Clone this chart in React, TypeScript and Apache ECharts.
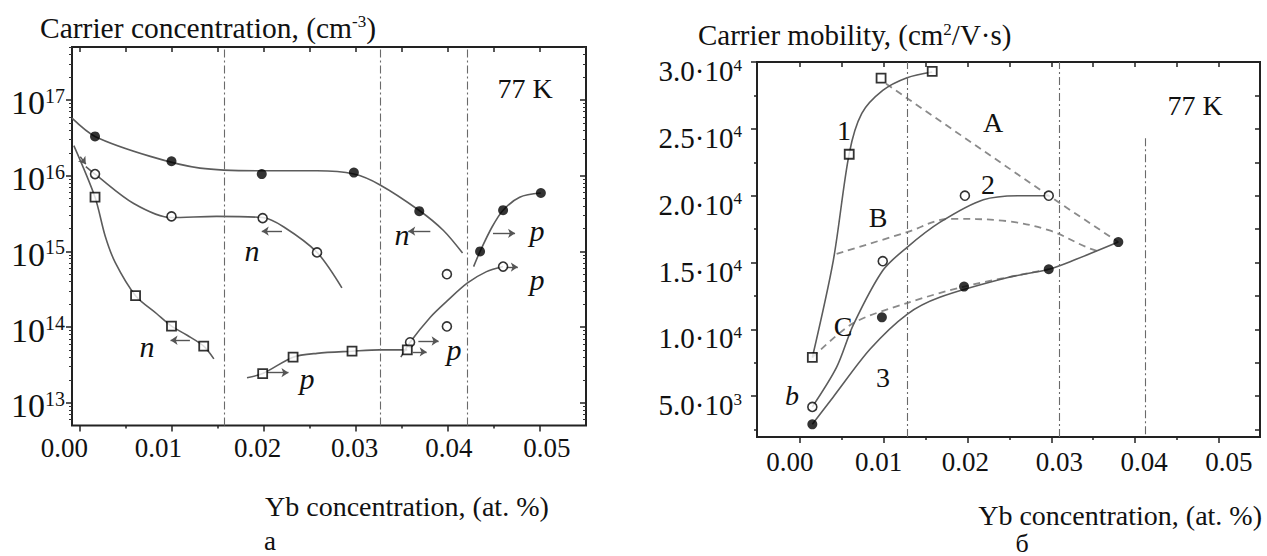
import React, { useEffect, useRef } from "react";
import * as echarts from "echarts";

const FONT = "Liberation Serif";

// ---------------- Panel a: carrier concentration (log scale) ----------------
const xTicksA = [0, 0.01, 0.02, 0.03, 0.04, 0.05];
const xMinorA = [0.005, 0.015, 0.025, 0.035, 0.045];
const yTicksA = [1e13, 1e14, 1e15, 1e16, 1e17];
const boundariesA = [0.0157, 0.0327, 0.0421];

// measured points
const filledA_x = [0.0017, 0.0100, 0.0198, 0.0298, 0.0369, 0.0435, 0.0460, 0.0501];
const filledA_y = [3.3e16, 1.55e16, 1.05e16, 1.1e16, 3.4e15, 1.0e15, 3.5e15, 5.9e15];
const openA_x = [0.0017, 0.0100, 0.0199, 0.0258, 0.0399, 0.0399, 0.0359, 0.0460];
const openA_y = [1.05e16, 2.9e15, 2.75e15, 9.7e14, 5.0e14, 1.02e14, 6.3e13, 6.3e14];
const squareA_x = [0.0017, 0.0061, 0.0100, 0.0135, 0.0199, 0.0232, 0.0296, 0.0356];
const squareA_y = [5.2e15, 2.6e14, 1.03e14, 5.6e13, 2.43e13, 4.0e13, 4.8e13, 5.0e13];

// fitted curves
const nFilled_x = [-0.0008, 0.0017, 0.0077, 0.0131, 0.0198, 0.0258, 0.0298, 0.0326, 0.0369, 0.0395, 0.0416];
const nFilled_y = [5.75e16, 3.3e16, 1.8e16, 1.26e16, 1.16e16, 1.16e16, 1.05e16, 7.6e15, 3.47e15, 1.9e15, 9.5e14];
const pFilled_x = [0.0428, 0.0435, 0.0448, 0.0460, 0.0478, 0.0501];
const pFilled_y = [6.3e14, 1.0e15, 2.1e15, 3.5e15, 5.2e15, 5.9e15];
const nOpen_x = [0.0007, 0.0017, 0.0059, 0.0100, 0.0149, 0.0199, 0.0222, 0.0258, 0.0285];
const nOpen_y = [1.32e16, 1.05e16, 4.3e15, 2.8e15, 2.9e15, 2.8e15, 2.1e15, 9.7e14, 3.3e14];
const pOpen_x = [0.0349, 0.0359, 0.0381, 0.0399, 0.0421, 0.0442, 0.0460];
const pOpen_y = [4.0e13, 6.3e13, 1.35e14, 2.2e14, 3.8e14, 5.4e14, 6.3e14];
const nSquare_x = [-0.0006, 0.0017, 0.0028, 0.0039, 0.0061, 0.0084, 0.0100, 0.0117, 0.0135, 0.0146];
const nSquare_y = [2.5e16, 5.2e15, 1.6e15, 7.1e14, 2.6e14, 1.5e14, 1.03e14, 7.8e13, 5.6e13, 3.8e13];
const pSquare_x = [0.0182, 0.0199, 0.0232, 0.0258, 0.0296, 0.0326, 0.0356];
const pSquare_y = [2.14e13, 2.43e13, 4.0e13, 4.5e13, 4.8e13, 5.0e13, 5.0e13];

// conduction-type arrows: [x1, y1, x2, y2]
const arrowsA = [
  [0.0220, 1.85e15, 0.0198, 1.85e15],
  [0.0120, 6.7e13, 0.0099, 6.7e13],
  [0.0204, 2.5e13, 0.0227, 2.5e13],
  [0.0381, 1.85e15, 0.0357, 1.85e15],
  [0.0449, 1.73e15, 0.0473, 1.73e15],
  [0.0463, 6.2e14, 0.0476, 6.2e14],
  [0.0368, 6.55e13, 0.0390, 6.55e13],
  [0.0362, 4.7e13, 0.0377, 4.7e13],
  [0.0001, 1.78e16, 0.0007, 1.42e16],
];

// ---------------- Panel b: carrier mobility ----------------
const xTicksB = [0, 0.01, 0.02, 0.03, 0.04, 0.05];
const xMinorB = [0.005, 0.015, 0.025, 0.035, 0.045];
const yTicksB = [5000, 10000, 15000, 20000, 25000, 30000];
const yMinorB = [2500, 7500, 12500, 17500, 22500, 27500];
const boundariesB = [0.0128, 0.0309];
const partialBoundaryB = [0.0412, 24300];

const squareB_x = [0.0015, 0.0059, 0.0097, 0.0158];
const squareB_y = [7900, 23100, 28800, 29300];
const openB_x = [0.0015, 0.0099, 0.0197, 0.0297];
const openB_y = [4200, 15100, 20000, 20000];
const filledB_x = [0.0015, 0.0098, 0.0196, 0.0297, 0.0380];
const filledB_y = [2900, 10900, 13200, 14500, 16530];

const curve1_x = [0.0015, 0.0040, 0.0059, 0.0074, 0.0099, 0.0128, 0.0158];
const curve1_y = [7900, 15150, 23150, 26150, 27870, 28820, 29250];
const curve2_x = [0.0015, 0.0044, 0.0064, 0.0099, 0.0128, 0.0167, 0.0219, 0.0266, 0.0297];
const curve2_y = [4200, 7170, 10350, 14400, 16140, 18000, 19700, 20000, 20000];
const curve3_x = [0.0015, 0.0040, 0.0084, 0.0128, 0.0167, 0.0247, 0.0297, 0.0326, 0.0380];
const curve3_y = [2900, 4950, 8530, 11130, 12400, 13860, 14500, 15150, 16530];
const dashA_x = [0.0103, 0.0297, 0.0380];
const dashA_y = [28370, 20000, 16530];
const dashB_x = [0.0044, 0.0128, 0.0179, 0.0247, 0.0298, 0.0342, 0.0358];
const dashB_y = [15650, 17270, 18270, 18100, 17400, 16150, 15800];
const dashC_x = [0.0015, 0.0064, 0.0128, 0.0196, 0.0297];
const dashC_y = [7900, 10470, 11970, 13200, 14500];

// ---------------- helpers ----------------
const zip = (xs: number[], ys: number[]) => xs.map((x, i) => [x, ys[i]]);
const TICK = { color: "#222", width: 1.5 };
const NOLINE = { show: false, onZero: false };

function curve(xs: number[], ys: number[], xi: number, yi: number, dashed = false, smooth: any = 0.3) {
  return {
    type: "line", xAxisIndex: xi, yAxisIndex: yi, data: zip(xs, ys), symbol: "none",
    smooth, silent: true, z: 3,
    lineStyle: dashed ? { color: "#8a8a8a", width: 1.8, type: [7, 5] } : { color: "#5c5c5c", width: 1.6 },
  };
}
function points(xs: number[], ys: number[], xi: number, yi: number, kind: string) {
  const base: any = { type: "scatter", xAxisIndex: xi, yAxisIndex: yi, data: zip(xs, ys), silent: true, z: 6 };
  if (kind === "filled") return { ...base, symbol: "circle", symbolSize: 10, itemStyle: { color: "#000" } };
  if (kind === "open") return { ...base, symbol: "circle", symbolSize: 9, itemStyle: { color: "#fff", borderColor: "#000", borderWidth: 1.6 } };
  return { ...base, symbol: "rect", symbolSize: 9, itemStyle: { color: "#fff", borderColor: "#000", borderWidth: 1.8 } };
}

function shiftRich(shifts: number[], size: number) {
  const rich: any = {};
  shifts.forEach((s, i) => {
    rich["s" + i] = {
      fontSize: size, fontFamily: FONT, color: "#111",
      padding: s < 0 ? [0, -2 * s, 0, 0] : [0, 0, 0, 2 * s],
    };
  });
  return rich;
}

function xAxesFor(grid: number, min: number, max: number, major: number[], minor: number[], shifts: number[], margin: number) {
  return [
    {
      gridIndex: grid, type: "value", min, max, position: "bottom",
      axisLine: NOLINE, splitLine: { show: false },
      axisTick: { show: true, customValues: major, length: 6, lineStyle: TICK },
      axisLabel: {
        customValues: major, margin,
        formatter: (v: number) => {
          const i = major.findIndex((m) => Math.abs(m - v) < 1e-9);
          return `{s${i}|${v.toFixed(2)}}`;
        },
        rich: shiftRich(shifts, 27),
      },
    },
    {
      gridIndex: grid, type: "value", min, max, position: "bottom",
      axisLine: NOLINE, splitLine: { show: false },
      axisTick: { show: true, customValues: minor, length: 3, lineStyle: TICK },
      axisLabel: { show: false },
    },
    {
      gridIndex: grid, type: "value", min, max, position: "top",
      axisLine: NOLINE, splitLine: { show: false },
      axisTick: { show: true, inside: true, customValues: [...major, ...minor], length: 5, lineStyle: TICK },
      axisLabel: { show: false },
    },
  ];
}

const logMin = Math.pow(10, 12.7);
const logMax = Math.pow(10, 17.7);
const yMinorA: number[] = [];
for (let e = 12; e <= 17; e++) {
  for (let m = 2; m <= 9; m++) {
    const v = m * Math.pow(10, e);
    if (v > logMin && v < logMax) yMinorA.push(v);
  }
}

const supRich = (base: number, sup: number) => ({
  b: { fontSize: base, fontFamily: FONT, color: "#111", lineHeight: base },
  s: { fontSize: sup, fontFamily: FONT, color: "#111", lineHeight: sup, verticalAlign: "top" },
});

function buildOption() {
  const yA = [
    {
      gridIndex: 0, type: "log", logBase: 10, min: logMin, max: logMax, position: "left",
      axisLine: NOLINE, splitLine: { show: false },
      axisTick: { show: true, customValues: yTicksA, length: 6, lineStyle: TICK },
      axisLabel: {
        customValues: yTicksA, margin: 7, padding: [6, 0, 0, 0],
        formatter: (v: number) => `{b|10}{s|${Math.round(Math.log10(v))}}`,
        rich: supRich(34, 20),
      },
    },
    {
      gridIndex: 0, type: "log", logBase: 10, min: logMin, max: logMax, position: "left",
      axisLine: NOLINE, splitLine: { show: false },
      axisTick: { show: true, customValues: yMinorA, length: 3, lineStyle: { color: "#333", width: 1 } },
      axisLabel: { show: false },
    },
    {
      gridIndex: 0, type: "log", logBase: 10, min: logMin, max: logMax, position: "right",
      axisLine: NOLINE, splitLine: { show: false },
      axisTick: { show: true, inside: true, customValues: yTicksA, length: 6, lineStyle: TICK },
      axisLabel: { show: false },
    },
    {
      gridIndex: 0, type: "log", logBase: 10, min: logMin, max: logMax, position: "right",
      axisLine: NOLINE, splitLine: { show: false },
      axisTick: { show: true, inside: true, customValues: yMinorA, length: 3, lineStyle: { color: "#333", width: 1 } },
      axisLabel: { show: false },
    },
  ];
  const yB = [
    {
      gridIndex: 1, type: "value", min: 1950, max: 30000, position: "left",
      axisLine: NOLINE, splitLine: { show: false },
      axisTick: { show: true, customValues: yTicksB, length: 6, lineStyle: TICK },
      axisLabel: {
        customValues: yTicksB, margin: 15, padding: [18, 0, 0, 0],
        formatter: (v: number) => {
          const e = Math.floor(Math.log10(v) + 1e-9);
          const m = (v / Math.pow(10, e)).toFixed(1);
          return `{b|${m}·10}{s|${e}}`;
        },
        rich: supRich(29, 17),
      },
    },
    {
      gridIndex: 1, type: "value", min: 1950, max: 30000, position: "left",
      axisLine: NOLINE, splitLine: { show: false },
      axisTick: { show: true, customValues: yMinorB, length: 3, lineStyle: TICK },
      axisLabel: { show: false },
    },
    {
      gridIndex: 1, type: "value", min: 1950, max: 30000, position: "right",
      axisLine: NOLINE, splitLine: { show: false },
      axisTick: { show: true, inside: true, customValues: [...yMinorB, ...yTicksB.slice(0, -1)], length: 5, lineStyle: TICK },
      axisLabel: { show: false },
    },
  ];

  const boundaryStyle = { color: "#6a6a6a", width: 1.1, type: [8, 3, 2, 3] };

  const series: any[] = [
    // panel a
    curve(nFilled_x, nFilled_y, 0, 0),
    curve(pFilled_x, pFilled_y, 0, 0),
    curve(nOpen_x, nOpen_y, 0, 0),
    curve(pOpen_x, pOpen_y, 0, 0),
    curve(nSquare_x, nSquare_y, 0, 0),
    curve(pSquare_x, pSquare_y, 0, 0),
    {
      ...points(filledA_x, filledA_y, 0, 0, "filled"),
      markLine: {
        silent: true, symbol: ["none", "none"], label: { show: false }, lineStyle: boundaryStyle,
        data: boundariesA.map((v) => [{ coord: [v, logMin] }, { coord: [v, logMax] }]),
      },
    },
    {
      ...points(openA_x, openA_y, 0, 0, "open"),
      markLine: {
        silent: true, symbol: ["none", "arrow"], symbolSize: 7, label: { show: false },
        lineStyle: { color: "#555", width: 1.4, type: "solid" },
        data: arrowsA.map((a) => [{ coord: [a[0], a[1]] }, { coord: [a[2], a[3]] }]),
      },
    },
    points(squareA_x, squareA_y, 0, 0, "square"),
    // panel b
    curve(dashA_x, dashA_y, 3, 4, true, false),
    curve(dashB_x, dashB_y, 3, 4, true, 0.35),
    curve(dashC_x, dashC_y, 3, 4, true, 0.3),
    curve(curve1_x, curve1_y, 3, 4),
    curve(curve2_x, curve2_y, 3, 4),
    curve(curve3_x, curve3_y, 3, 4),
    {
      ...points(filledB_x, filledB_y, 3, 4, "filled"),
      markLine: {
        silent: true, symbol: ["none", "none"], label: { show: false }, lineStyle: boundaryStyle,
        data: [
          ...boundariesB.map((v) => [{ coord: [v, 1950] }, { coord: [v, 30000] }]),
          [{ coord: [partialBoundaryB[0], partialBoundaryB[1]] }, { coord: [partialBoundaryB[0], 1950] }],
        ],
      },
    },
    points(openB_x, openB_y, 3, 4, "open"),
    points(squareB_x, squareB_y, 3, 4, "square"),
  ];

  const txt = (text: string, x: number, y: number, opts: any = {}) => ({
    type: "text", x, y, silent: true, z: 50,
    style: {
      text, fontSize: opts.size || 28, fontFamily: FONT, fontStyle: opts.italic ? "italic" : "normal",
      fill: "#111", align: opts.align || "center", verticalAlign: "middle",
      textAlign: opts.align || "center", textVerticalAlign: "middle",
      rich: opts.rich,
    },
  });
  const titleRich = {
    s: { fontSize: 17, fontFamily: FONT, fill: "#111", color: "#111", verticalAlign: "top", lineHeight: 17 },
  };

  const graphic = [
    txt("Carrier concentration, (cm{s|-3})", 40, 28, { size: 29.5, align: "left", rich: titleRich }),
    txt("Carrier mobility, (cm{s|2}/V·s)", 698, 35, { size: 29, align: "left", rich: titleRich }),
    txt("Yb concentration, (at. %)", 265, 506, { align: "left" }),
    txt("Yb concentration, (at. %)", 1262, 515, { align: "right" }),
    txt("а", 270, 541, { size: 27 }),
    txt("б", 1022, 543, { size: 26 }),
    txt("77 K", 525, 88),
    txt("77 K", 1195, 105),
    // panel a labels
    txt("n", 252, 250, { italic: true, size: 30 }),
    txt("n", 147, 346, { italic: true, size: 30 }),
    txt("p", 307, 378, { italic: true, size: 30 }),
    txt("n", 402, 234, { italic: true, size: 30 }),
    txt("p", 537, 230, { italic: true, size: 30 }),
    txt("p", 537, 279, { italic: true, size: 30 }),
    txt("p", 454, 349, { italic: true, size: 30 }),
    // panel b labels
    txt("1", 844, 130),
    txt("A", 993, 122),
    txt("2", 988, 184),
    txt("B", 878, 217),
    txt("C", 843, 326),
    txt("3", 883, 377),
    txt("b", 792, 395, { italic: true }),
  ];

  return {
    animation: false,
    backgroundColor: "#fff",
    textStyle: { fontFamily: FONT, color: "#111" },
    grid: [
      { left: 72, top: 47, width: 514, height: 378.5, show: true, borderColor: "#222", borderWidth: 2, backgroundColor: "transparent" },
      { left: 757, top: 62, width: 503, height: 375, show: true, borderColor: "#222", borderWidth: 2, backgroundColor: "transparent" },
    ],
    xAxis: [
      ...xAxesFor(0, -0.0008, 0.055, xTicksA, xMinorA, [-15, -13, -6, -1, 1, 7], 9),
      ...xAxesFor(1, -0.0051, 0.0549, xTicksB, xMinorB, [-10, -5, -2, 8, 9, 10], 11),
    ],
    yAxis: [...yA, ...yB],
    series,
    graphic,
  };
}

export default function App() {
  const ref = useRef<HTMLDivElement>(null);
  useEffect(() => {
    if (!ref.current) return;
    const chart = echarts.init(ref.current, null, { renderer: "svg" });
    chart.setOption(buildOption() as any);
    return () => chart.dispose();
  }, []);
  return (
    <div
      ref={ref}
      style={{ position: "absolute", left: 0, top: 0, width: 1267, height: 556, background: "#fff" }}
    />
  );
}
